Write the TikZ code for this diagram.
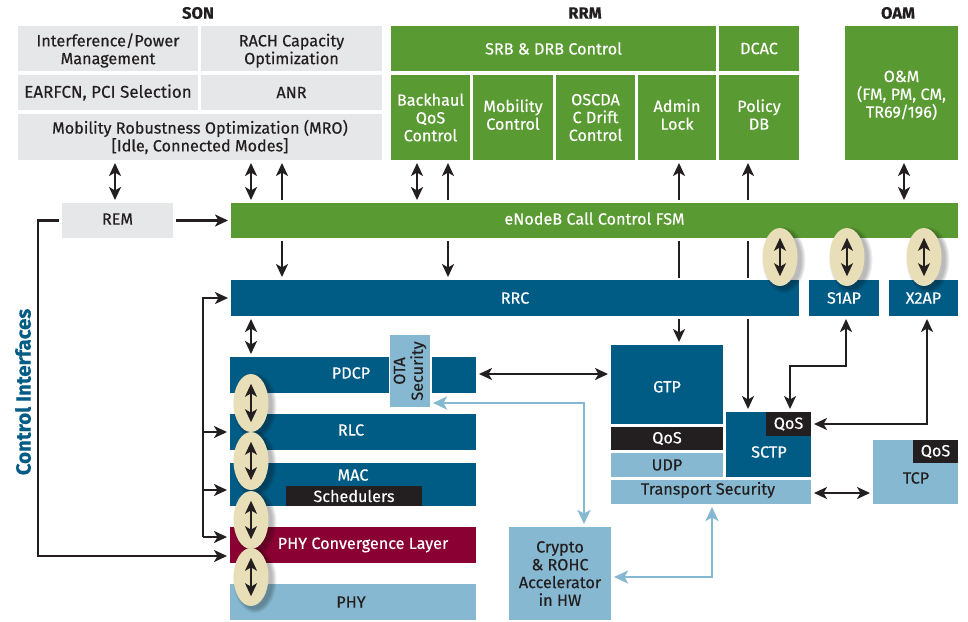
\documentclass[tikz,border=0pt]{standalone}
\usepackage{fontspec}
\setmainfont{Fira Sans}[FakeBold=0.35]
\usetikzlibrary{arrows.meta,shapes.geometric,calc}
\definecolor{cgray}{HTML}{E6E7E8}
\definecolor{cgreen}{HTML}{5A9A32}
\definecolor{cblue}{HTML}{005B85}
\definecolor{clight}{HTML}{86B9D1}
\definecolor{cmaroon}{HTML}{8B0033}
\definecolor{cbeige}{HTML}{E8DFB8}
\definecolor{cink}{HTML}{231F20}
\newcommand{\up}[1]{\rule[-#1pt]{0pt}{0pt}}
\tikzset{
 cell/.style={inner sep=0pt,outer sep=0pt,align=center,font=\fontsize{16.2}{17.8}\selectfont},
 gray cell/.style={cell,fill=cgray,text=cink},
 wide gray cell/.style={gray cell,font=\fontsize{17}{18.6}\selectfont},
 green cell/.style={cell,fill=cgreen,text=white},
 blue cell/.style={cell,fill=cblue,text=white},
 light cell/.style={cell,fill=clight,text=cink},
 black cell/.style={cell,fill=cink,text=white},
 maroon cell/.style={cell,fill=cmaroon,text=white},
 title/.style={inner sep=0pt,font=\fontsize{16.5}{18}\selectfont\bfseries,text=cink},
 pill/.style={ellipse,fill=cbeige,inner sep=0pt,minimum width=35pt,minimum height=58pt},
 pillshade/.style={ellipse,fill=black,fill opacity=0.06,inner sep=0pt},
 wire/.style={draw=cink,line width=2.2pt},
 one/.style={wire,-{Stealth[length=13pt,width=12pt,inset=3.5pt]},shorten >=3pt,shorten <=3pt},
 two/.style={wire,{Stealth[length=13pt,width=12pt,inset=3.5pt]}-{Stealth[length=13pt,width=12pt,inset=3.5pt]},shorten >=3pt,shorten <=3pt},
 plain/.style={wire,shorten <=3pt,shorten >=2pt},
 sky/.style={draw=clight,line width=2.6pt,{Stealth[length=14pt,width=13pt,inset=3.5pt]}-{Stealth[length=14pt,width=13pt,inset=3.5pt]},shorten >=3pt,shorten <=3pt},
 inpill/.style={wire,line width=1.8pt,{Stealth[length=13pt,width=12pt,inset=3.5pt]}-{Stealth[length=13pt,width=12pt,inset=3.5pt]},shorten >=10pt,shorten <=10pt},
}
% #1 style, #2 name, #3 x0, #4 y0, #5 x1, #6 y1, #7 text
\newcommand{\bx}[7]{%
 \pgfmathsetmacro{\bw}{#5-#3}\pgfmathsetmacro{\bh}{#6-#4}%
 \node[#1,anchor=north west,minimum width=\bw pt,minimum height=\bh pt] (#2) at (#3,#4) {#7};}
\newcommand{\pl}[3]{%
 \foreach \g in {0,2,4,6,8}{\pgfmathsetmacro{\pw}{43-\g}\pgfmathsetmacro{\ph}{66-\g}%
  \node[pillshade,minimum width=\pw pt,minimum height=\ph pt] at (#2+4,#3+3) {};}%
 \node[pill] (#1) at (#2,#3) {};}
\begin{document}
\begin{tikzpicture}[x=1pt,y=-1pt]
\useasboundingbox (0,0) rectangle (968,621);
\fill[white] (0,0) rectangle (968,621);
% titles
\node[title] (tson) at (198,13) {SON};
\node[title] (trrm) at (585,13) {RRM};
\node[title] (toam) at (898,13) {OAM};
% SON
\bx{gray cell}{ipm}{18}{26}{198}{71}{\rule{0pt}{17pt}Interference/Power\\Management}
\bx{gray cell}{rach}{201}{26}{382}{71}{\rule{0pt}{17pt}RACH Capacity\\Optimization}
\bx{wide gray cell}{earfcn}{18}{75}{198}{110}{EARFCN, PCI Selection}
\bx{gray cell}{anr}{201}{75}{382}{110}{ANR}
\bx{gray cell}{mro}{18}{114}{382}{160}{Mobility Robustness Optimization (MRO)\\{}[Idle, Connected Modes]}
\bx{gray cell}{rem}{62}{203}{173}{238}{REM\up{3}}
% RRM
\bx{green cell}{srb}{391}{26}{716}{71}{SRB \& DRB Control}
\bx{green cell}{dcac}{719}{26}{799}{71}{DCAC}
\bx{green cell}{back}{391}{75}{470}{160}{Backhaul\\QoS\\Control}
\bx{green cell}{mob}{473}{75}{553}{160}{Mobility\\Control\up{6}}
\bx{green cell}{osc}{556}{75}{635}{160}{OSCDA\\C Drift\\Control}
\bx{green cell}{admin}{638}{75}{716}{160}{Admin\\Lock\up{6}}
\bx{green cell}{policy}{719}{75}{799}{160}{Policy\\DB\up{6}}
\bx{green cell}{oam}{845}{26}{958}{160}{\rule{0pt}{16pt}O\&M\\(FM, PM, CM,\\TR69/196)}
\bx{green cell}{enb}{231}{203}{958}{238}{eNodeB Call Control FSM\up{4}}
% RRC row
\bx{blue cell}{rrc}{231}{280}{799}{316}{RRC}
\bx{blue cell}{sap}{809}{280}{879}{316}{S1AP}
\bx{blue cell}{xap}{889}{280}{958}{316}{X2AP}
% stack
\bx{blue cell}{pdcp}{230}{357}{476}{393}{}
\node[cell,text=white] (pdcpt) at (351,373) {PDCP};
\bx{light cell}{ota}{390}{335}{430}{407}{}
\draw[white,line width=3pt] (ota.north west) rectangle (ota.south east);
\fill[clight] (ota.north west) rectangle (ota.south east);
\node[cell,text=cink,rotate=90] (otat) at (ota.center) {OTA\\Security};
\bx{blue cell}{rlc}{230}{414}{476}{450}{}
\node[cell,text=white] (rlct) at (351,430) {RLC};
\bx{blue cell}{mac}{230}{463}{476}{506}{}
\node[cell,text=white] (mact) at (353,475) {MAC};
\bx{black cell}{sched}{286}{486}{422}{506}{Schedulers}
\bx{maroon cell}{phyc}{230}{527}{476}{563}{}
\node[cell,text=white] (phyct) at (363,545) {PHY Convergence Layer};
\bx{light cell}{phy}{230}{584}{476}{620}{}
\node[cell,text=cink] (phyt) at (351,602) {PHY};
\bx{light cell}{crypto}{509}{527}{611}{620}{Crypto\\\& ROHC\\Accelerator\\in HW}
% transport
\bx{blue cell}{gtp}{611}{345}{723}{424}{\rule{0pt}{16pt}GTP}
\bx{black cell}{qa}{611}{427}{723}{450}{QoS}
\bx{light cell}{udp}{611}{453}{723}{477}{UDP}
\bx{light cell}{tsec}{611}{480}{811}{504}{}
\node[cell,text=cink] (tsect) at (708,490) {Transport Security};
\bx{blue cell}{sctp}{726}{412}{811}{477}{}
\node[cell,text=white] (sctpt) at (769,452) {SCTP};
\bx{black cell}{qb}{766}{412}{811}{436}{QoS}
\bx{light cell}{tcp}{873}{440}{958}{504}{}
\node[cell,text=cink] (tcpt) at (916,478) {TCP};
\bx{black cell}{qc}{913}{440}{958}{463}{QoS}
% side label
\node[inner sep=0pt,rotate=90,text=cblue,font=\fontsize{20.4}{22}\selectfont\bfseries] (ctrl) at (23,392) {Control Interfaces};
% guide coordinates
\coordinate (xa) at (251,0);
\coordinate (xb) at (282,0);
\coordinate (xc) at (417,0);
\coordinate (xd) at (448,0);
\coordinate (xe) at (679,0);
\coordinate (xf) at (748,0);
\coordinate (xg) at (904,0);
\coordinate (xh) at (115,0);
\coordinate (xl) at (38,0);
\coordinate (xv) at (203,0);
\coordinate (ya) at (0,366);
\coordinate (yb) at (0,424);
\coordinate (yc) at (0,432);
\coordinate (yd) at (0,490);
\coordinate (ye) at (0,537);
\coordinate (yf) at (0,556);
\coordinate (yg) at (0,298);
\coordinate (yh) at (0,374);
\coordinate (yi) at (0,403);
\coordinate (yj) at (0,577);
\coordinate (yk) at (0,493);
\coordinate (xm) at (584,0);
\coordinate (xn) at (712,0);
\coordinate (xs) at (846,0);
\coordinate (xt) at (927,0);
\coordinate (xq) at (790,0);
% black connectors
\draw[two] (xh |- rem.north) -- (xh |- mro.south);
\draw[two] (xa |- mro.south) -- (xa |- enb.north);
\draw[one] (xb |- enb.north) -- (xb |- mro.south);
\draw[two] (xc |- back.south) -- (xc |- enb.north);
\draw[one] (xd |- enb.north) -- (xd |- back.south);
\draw[one] (xe |- enb.north) -- (xe |- admin.south);
\draw[one] (xf |- enb.north) -- (xf |- policy.south);
\draw[two] (xg |- oam.south) -- (xg |- enb.north);
\draw[one] (rem.east) -- (enb.west);
\draw[one] (xb |- enb.south) -- (xb |- rrc.north);
\draw[one] (xd |- enb.south) -- (xd |- rrc.north);
\draw[plain] (xe |- enb.south) -- (xe |- rrc.north);
\draw[plain] (xf |- enb.south) -- (xf |- rrc.north);
\draw[one] (xe |- rrc.south) -- (xe |- gtp.north);
\draw[one] (xf |- rrc.south) -- (xf |- sctp.north);
\draw[two] (xa |- rrc.south) -- (xa |- pdcp.north);
\draw[two] (pdcp.east |- yh) -- (gtp.west |- yh);
\draw[two] (xs |- sap.south) -- (xs |- ya) -- (xq |- ya) -- (xq |- sctp.north);
\draw[two] (xt |- xap.south) -- (xt |- yb) -- (qb.east |- yb);
\draw[two] (tsec.east |- yk) -- (tcp.west |- yk);
% control bus
\draw[one] (rem.west) -- (xl |- rem.west) -- (xl |- yf) -- (phyc.west |- yf);
\draw[one,shorten <=0pt] (xv |- ye) -- (xv |- yg) -- (rrc.west |- yg);
\draw[one,shorten <=0pt] (xv |- yc) -- (rlc.west |- yc);
\draw[one,shorten <=0pt] (xv |- yd) -- (mac.west |- yd);
\draw[one,shorten <=0pt] (xv |- ye) -- (phyc.west |- ye);
% light connectors
\draw[sky] (ota.east |- yi) -- (xm |- yi) -- (xm |- crypto.north);
\draw[sky] (xn |- tsec.south) -- (xn |- yj) -- (crypto.east |- yj);
% pills
\pl{pa}{251}{403}
\pl{pb}{251}{461}
\pl{pc}{251}{520}
\pl{pd}{251}{577}
\pl{pe}{780}{257}
\pl{pf}{847}{257}
\pl{pg}{924}{257}
\foreach \p in {pa,pb,pc,pd,pe,pf,pg}{\draw[inpill] (\p.north) -- (\p.south);}
\end{tikzpicture}
\end{document}
